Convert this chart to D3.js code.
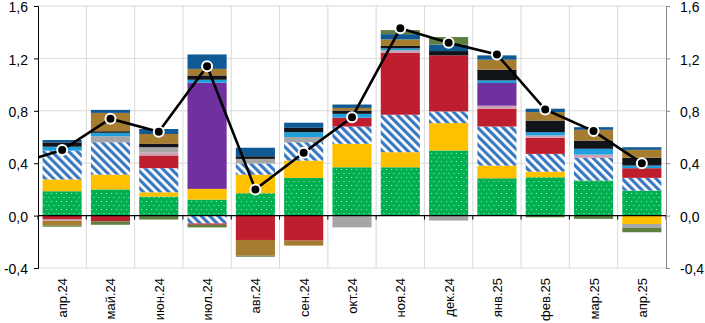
<!DOCTYPE html>
<html>
<head>
<meta charset="utf-8">
<script src="https://cdn.jsdelivr.net/npm/d3@7"></script>
<style>
  body { margin: 0; background: #fff; }
  svg { display: block; font-family: "Open Sans", sans-serif; }
</style>
</head>
<body>
<div id="chart"></div>
<script>
// categories (months)
const months = ["апр.24","май.24","июн.24","июл.24","авг.24","сен.24","окт.24","ноя.24","дек.24","янв.25","фев.25","мар.25","апр.25"];

// series values, bottom of stack first
const sGreen  = [0.186, 0.200, 0.145, 0.122, 0.171, 0.288, 0.369, 0.369, 0.497, 0.285, 0.293, 0.268, 0.191];
const sYellow = [0.090, 0.113, 0.033, 0.082, 0.142, 0.132, 0.179, 0.115, 0.209, 0.097, 0.043, 0, -0.064];
const sHatch  = [0.220, 0.247, 0.184, -0.060, 0.085, 0.140, 0.132, 0.286, 0.089, 0.298, 0.135, 0.173, 0.097];
const sRed    = [-0.030, -0.045, 0.097, -0.010, -0.186, -0.191, 0.067, 0.474, 0.428, 0.136, 0.123, 0, 0.074];
const sMauve  = [-0.010, 0, 0.025, 0, 0, 0, 0, 0.018, 0, 0.023, 0.018, 0.025, 0];
const sPurple = [0, 0, 0, 0.810, 0, 0, 0, 0, 0, 0.173, 0, 0, 0];
const sGray   = [0, 0.046, 0.038, 0, 0.035, 0.040, -0.090, 0, -0.038, 0, 0, 0, -0.030];
const sCyan   = [0.030, 0.026, 0, 0.023, 0, 0.037, 0.030, 0.015, 0, 0.020, 0.025, 0.044, 0.020];
const sBlack  = [0.033, 0.012, 0.025, 0.033, 0.020, 0.033, 0.025, 0.018, 0.033, 0.082, 0.089, 0.063, 0.059];
const sBrown  = [-0.035, 0.140, 0.076, 0.050, -0.120, -0.038, 0.020, 0.050, 0, 0.076, 0.064, 0.082, 0.061];
const sNavy   = [0.018, 0.023, 0.038, 0.110, 0.065, 0.039, 0.026, 0.040, 0.049, 0.033, 0.026, 0.020, 0.020];
const sOlive  = [-0.010, -0.025, -0.030, -0.020, -0.008, 0, 0, 0.031, 0.058, 0, -0.013, -0.025, -0.033];

// total (line), plus the previous month that enters from the left edge
const lineTotal = [0.50, 0.74, 0.64, 1.14, 0.20, 0.48, 0.75, 1.43, 1.32, 1.23, 0.81, 0.645, 0.40];
const linePrev = 0.39;

const yTicks = [-0.4, 0, 0.4, 0.8, 1.2, 1.6];

const series = [
  { key: "green",  values: sGreen,  fill: "url(#dots)" },
  { key: "yellow", values: sYellow, fill: "#FFC000" },
  { key: "hatch",  values: sHatch,  fill: "url(#hatch)" },
  { key: "red",    values: sRed,    fill: "#BE1E2D" },
  { key: "mauve",  values: sMauve,  fill: "#C9A2B6" },
  { key: "purple", values: sPurple, fill: "#7030A0" },
  { key: "gray",   values: sGray,   fill: "#A6A6A6" },
  { key: "cyan",   values: sCyan,   fill: "#1F9FDB" },
  { key: "black",  values: sBlack,  fill: "#111418" },
  { key: "brown",  values: sBrown,  fill: "#A57C30" },
  { key: "navy",   values: sNavy,   fill: "#0F5A94" },
  { key: "olive",  values: sOlive,  fill: "#5E7F3F" }
];

const width = 705, height = 323;
const marginLeft = 38, marginRight = 39, marginTop = 6, marginBottom = 55;

const table = months.map((m, i) => {
  const row = { month: m };
  series.forEach(s => row[s.key] = s.values[i]);
  return row;
});

const stacked = d3.stack()
  .keys(series.map(s => s.key))
  .offset(d3.stackOffsetDiverging)(table);

const x = d3.scaleBand()
  .domain(months)
  .range([marginLeft, width - marginRight])
  .paddingInner(0.19)
  .paddingOuter(0.095);

const y = d3.scaleLinear()
  .domain([-0.4, 1.6])
  .range([height - marginBottom, marginTop]);

const svg = d3.select("#chart").append("svg")
  .attr("width", width)
  .attr("height", height);

const defs = svg.append("defs");

const dots = defs.append("pattern")
  .attr("id", "dots")
  .attr("patternUnits", "userSpaceOnUse")
  .attr("width", 5).attr("height", 8);
dots.append("rect").attr("width", 5).attr("height", 8).attr("fill", "#00B050");
dots.append("rect").attr("x", 1).attr("y", 1).attr("width", 1).attr("height", 1).attr("fill", "#a8e6c0");
dots.append("rect").attr("x", 3.5).attr("y", 5).attr("width", 1).attr("height", 1).attr("fill", "#a8e6c0");

const hatch = defs.append("pattern")
  .attr("id", "hatch")
  .attr("patternUnits", "userSpaceOnUse")
  .attr("width", 6).attr("height", 6)
  .attr("patternTransform", "rotate(-45)");
hatch.append("rect").attr("width", 6).attr("height", 6).attr("fill", "#fff");
hatch.append("rect").attr("width", 3.2).attr("height", 6).attr("fill", "#3A78C2");

defs.append("clipPath").attr("id", "plotclip")
  .append("rect")
  .attr("x", marginLeft).attr("y", 0)
  .attr("width", width - marginLeft - marginRight).attr("height", height);

// gridlines
const step = x.step();
const bounds = months.map(m => x(m) - step * 0.095).concat([width - marginRight]);

svg.append("g")
  .selectAll("line")
  .data(yTicks)
  .join("line")
    .attr("x1", marginLeft).attr("x2", width - marginRight)
    .attr("y1", d => y(d)).attr("y2", d => y(d))
    .attr("stroke", "#d9d9d9");

svg.append("g")
  .selectAll("line")
  .data(bounds.slice(1, -1))
  .join("line")
    .attr("x1", d => d).attr("x2", d => d)
    .attr("y1", y(1.6)).attr("y2", y(-0.4))
    .attr("stroke", "#d9d9d9");

// bars
svg.append("g")
  .selectAll("g")
  .data(stacked)
  .join("g")
    .attr("fill", (d, i) => series[i].fill)
  .selectAll("rect")
  .data(d => d)
  .join("rect")
    .attr("x", d => x(d.data.month))
    .attr("y", d => y(Math.max(d[0], d[1])))
    .attr("height", d => Math.abs(y(d[0]) - y(d[1])))
    .attr("width", x.bandwidth());

// zero line with ticks at category boundaries
svg.append("line")
  .attr("x1", marginLeft).attr("x2", width - marginRight)
  .attr("y1", y(0)).attr("y2", y(0))
  .attr("stroke", "#000").attr("stroke-width", 1.2);

svg.append("g")
  .selectAll("line")
  .data(bounds)
  .join("line")
    .attr("x1", d => d).attr("x2", d => d)
    .attr("y1", y(0)).attr("y2", y(0) + 4)
    .attr("stroke", "#000");

const fmt = d => d3.format(".1f")(d).replace(".", ",").replace("−", "-");

// left axis
svg.append("g")
  .attr("transform", `translate(${marginLeft},0)`)
  .call(d3.axisLeft(y).tickValues(yTicks).tickSize(4).tickPadding(6).tickFormat(fmt))
  .call(g => g.select(".domain").attr("stroke", "#000"))
  .call(g => g.selectAll("text").attr("font-size", 14).attr("fill", "#000").attr("dy", "0.4em"));

// right axis
svg.append("g")
  .attr("transform", `translate(${width - marginRight},0)`)
  .call(d3.axisRight(y).tickValues(yTicks).tickSize(4).tickPadding(10).tickFormat(fmt))
  .call(g => g.select(".domain").attr("stroke", "#888"))
  .call(g => g.selectAll(".tick line").attr("stroke", "#888"))
  .call(g => g.selectAll("text").attr("font-size", 14).attr("fill", "#000").attr("dy", "0.4em"));

// month labels
svg.append("g")
  .selectAll("text")
  .data(months)
  .join("text")
    .attr("transform", d => `translate(${x(d) + x.bandwidth() / 2 + 5},${y(-0.4) + 10}) rotate(-90)`)
    .attr("text-anchor", "end")
    .attr("font-family", "'Liberation Sans', Arial, sans-serif")
    .attr("font-size", 13)
    .attr("fill", "#000")
    .text(d => d);

// total line
const cx = d => x(d) + x.bandwidth() / 2;
const linePts = [[cx(months[0]) - step, linePrev]].concat(months.map((m, i) => [cx(m), lineTotal[i]]));

svg.append("path")
  .attr("clip-path", "url(#plotclip)")
  .attr("fill", "none")
  .attr("stroke", "#000")
  .attr("stroke-width", 2.6)
  .attr("d", d3.line().x(d => d[0]).y(d => y(d[1]))(linePts));

svg.append("g")
  .selectAll("circle")
  .data(months)
  .join("circle")
    .attr("cx", d => cx(d))
    .attr("cy", (d, i) => y(lineTotal[i]))
    .attr("r", 5)
    .attr("fill", "#000")
    .attr("stroke", "#fff")
    .attr("stroke-width", 2);
</script>
</body>
</html>
